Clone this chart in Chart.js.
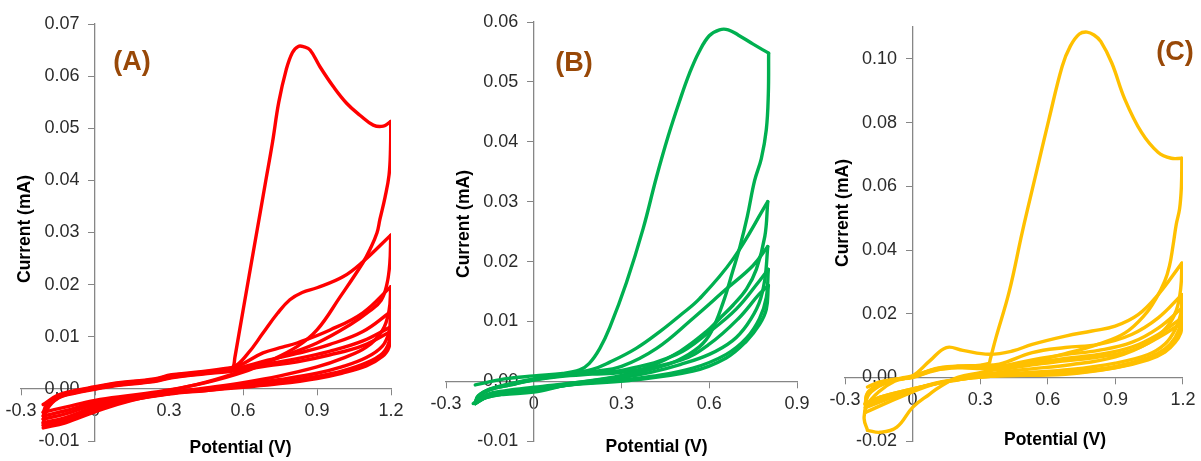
<!DOCTYPE html>
<html><head><meta charset="utf-8">
<script src="https://cdn.jsdelivr.net/npm/chart.js@4.4.1/dist/chart.umd.min.js"></script>
<style>
html,body{margin:0;padding:0;background:#fff;overflow:hidden}
#wrap{position:relative;width:1201px;height:461px;background:#fff}
canvas{position:absolute;left:0;top:0}
</style></head><body>
<div id="wrap">
<canvas id="cA" width="1201" height="461"></canvas>
<canvas id="cB" width="1201" height="461"></canvas>
<canvas id="cC" width="1201" height="461"></canvas>
</div>
<script>
// ---------- tick values and labels ----------
const xTicksAC = [-0.3, 0, 0.3, 0.6, 0.9, 1.2];
const xLabelsAC = ['-0.3', '0', '0.3', '0.6', '0.9', '1.2'];
const xTicksB = [-0.3, 0, 0.3, 0.6, 0.9];
const xLabelsB = ['-0.3', '0', '0.3', '0.6', '0.9'];
const yTicksA = [-0.01, 0, 0.01, 0.02, 0.03, 0.04, 0.05, 0.06, 0.07];
const yLabelsA = ['-0.01', '0.00', '0.01', '0.02', '0.03', '0.04', '0.05', '0.06', '0.07'];
const yTicksB = [-0.01, 0, 0.01, 0.02, 0.03, 0.04, 0.05, 0.06];
const yLabelsB = ['-0.01', '0.00', '0.01', '0.02', '0.03', '0.04', '0.05', '0.06'];
const yTicksC = [-0.02, 0, 0.02, 0.04, 0.06, 0.08, 0.10];
const yLabelsC = ['-0.02', '0.00', '0.02', '0.04', '0.06', '0.08', '0.10'];

// ---------- Panel A cycles: [potential V, current mA] ----------
const aCycle1 = [
[-0.21,-0.0030],[-0.15,-0.0012],[-0.08,-0.0003],[0,0.0004],[0.08,0.0011],[0.24,0.0019],[0.31,0.0027],[0.43,0.0033],[0.545,0.0040],[0.56,0.0042],[0.567,0.0060],
[0.60,0.0150],[0.65,0.0285],[0.69,0.0393],[0.72,0.0474],[0.745,0.0550],[0.775,0.0612],[0.80,0.0645],[0.824,0.0657],[0.848,0.0656],[0.872,0.0650],[0.912,0.0618],[0.966,0.0580],[1.020,0.0548],[1.074,0.0525],[1.128,0.0506],[1.169,0.0504],[1.199,0.0513],
[1.198,0.0460],[1.192,0.0410],[1.176,0.0368],[1.155,0.0325],[1.143,0.0299],[1.115,0.0268],[1.086,0.0242],[0.993,0.0176],[0.90,0.0113],[0.819,0.0081],[0.70,0.0052],[0.60,0.0032],[0.45,0.0012],[0.30,-0.0002],[0.15,-0.0012],[0,-0.0022],[-0.12,-0.0035],[-0.21,-0.0045]
];
const aCycle2 = [
[-0.21,-0.0045],[-0.195,-0.0030],[-0.15,-0.0014],[-0.08,-0.0004],[0,0.0003],[0.08,0.0010],[0.24,0.0018],[0.31,0.0026],[0.43,0.0032],[0.56,0.0042],
[0.62,0.0068],[0.681,0.0107],[0.74,0.0145],[0.79,0.0171],[0.84,0.0185],[0.90,0.0194],[1.005,0.0215],[1.086,0.0244],[1.199,0.0295],
[1.195,0.0240],[1.183,0.0200],[1.160,0.0170],[1.115,0.0150],[1.034,0.0123],[0.90,0.0088],[0.75,0.0061],[0.60,0.0035],[0.45,0.0013],[0.30,-0.0003],[0.15,-0.0015],[0,-0.0026],[-0.12,-0.0042],[-0.21,-0.0052]
];
const aCycle3 = [
[-0.21,-0.0052],[-0.195,-0.0032],[-0.15,-0.0015],[-0.08,-0.0005],[0,0.0002],[0.08,0.0009],[0.24,0.0017],[0.31,0.0025],[0.43,0.0031],[0.56,0.0040],
[0.681,0.0069],[0.76,0.0080],[0.819,0.0088],[0.953,0.0113],[1.086,0.0146],[1.199,0.0196],
[1.192,0.0150],[1.165,0.0112],[1.10,0.0080],[1.00,0.0058],[0.90,0.0042],[0.75,0.0025],[0.60,0.0012],[0.45,0.0002],[0.30,-0.0007],[0.15,-0.0018],[0,-0.0030],[-0.12,-0.0048],[-0.21,-0.0058]
];
const aCycle4 = [
[-0.21,-0.0058],[-0.195,-0.0035],[-0.15,-0.0016],[-0.08,-0.0006],[0,0.0001],[0.08,0.0008],[0.24,0.0016],[0.31,0.0024],[0.43,0.0030],[0.56,0.0038],
[0.70,0.0055],[0.82,0.0068],[0.95,0.0085],[1.086,0.0110],[1.199,0.0148],
[1.192,0.0110],[1.165,0.0082],[1.10,0.0060],[1.00,0.0042],[0.90,0.0030],[0.75,0.0018],[0.60,0.0008],[0.45,-0.0001],[0.30,-0.0009],[0.15,-0.0020],[0,-0.0035],[-0.12,-0.0055],[-0.21,-0.0065]
];
const aCycle5 = [
[-0.21,-0.0065],[-0.195,-0.0038],[-0.15,-0.0017],[-0.08,-0.0007],[0,0.0000],[0.08,0.0007],[0.24,0.0015],[0.31,0.0022],[0.43,0.0029],[0.56,0.0036],
[0.70,0.0048],[0.82,0.0058],[0.95,0.0072],[1.086,0.0092],[1.199,0.0119],
[1.192,0.0090],[1.165,0.0068],[1.10,0.0050],[1.00,0.0034],[0.90,0.0024],[0.75,0.0013],[0.60,0.0005],[0.45,-0.0003],[0.30,-0.0010],[0.15,-0.0021],[0,-0.0040],[-0.12,-0.0060],[-0.21,-0.0070]
];
const aCycle6 = [
[-0.21,-0.0070],[-0.195,-0.0040],[-0.15,-0.0018],[-0.08,-0.0008],[0,-0.0001],[0.08,0.0006],[0.24,0.0014],[0.31,0.0021],[0.43,0.0028],[0.56,0.0034],
[0.70,0.0044],[0.82,0.0052],[0.95,0.0065],[1.086,0.0083],[1.199,0.0110],
[1.192,0.0080],[1.165,0.0062],[1.10,0.0044],[1.00,0.0030],[0.90,0.0020],[0.75,0.0010],[0.60,0.0003],[0.45,-0.0003],[0.30,-0.0009],[0.15,-0.0022],[0,-0.0044],[-0.12,-0.0065],[-0.21,-0.0075]
];

// ---------- Panel B cycles ----------
const bCycle1 = [
[-0.20,-0.0006],[-0.10,0.0004],[0,0.0009],[0.10,0.0013],[0.157,0.0019],[0.19,0.0030],[0.226,0.0055],[0.26,0.0090],[0.317,0.0165],[0.374,0.0255],[0.419,0.0340],[0.46,0.0410],[0.50,0.0470],[0.533,0.0515],[0.565,0.0550],[0.60,0.0577],[0.635,0.0587],[0.665,0.0587],[0.70,0.0578],[0.75,0.0563],[0.803,0.0548],
[0.802,0.0480],[0.795,0.0420],[0.778,0.0372],[0.755,0.0335],[0.73,0.0275],[0.705,0.0225],[0.681,0.0185],[0.647,0.0131],[0.607,0.0083],[0.567,0.0058],[0.488,0.0034],[0.40,0.0020],[0.30,0.0008],[0.15,-0.0002],[0,-0.0010],[-0.10,-0.0016],[-0.16,-0.0022],[-0.20,-0.0035]
];
const bCycle2 = [
[-0.20,-0.0035],[-0.19,-0.0024],[-0.15,-0.0013],[-0.08,-0.0004],[0,0.0004],[0.089,0.0010],[0.20,0.0020],[0.26,0.0032],[0.35,0.0055],[0.431,0.0083],[0.50,0.0110],[0.567,0.0138],[0.681,0.0204],[0.80,0.0300],
[0.79,0.0242],[0.761,0.0187],[0.727,0.0154],[0.681,0.0127],[0.636,0.0105],[0.59,0.0083],[0.50,0.0050],[0.40,0.0025],[0.30,0.0010],[0.15,-0.0002],[0,-0.0012],[-0.10,-0.0018],[-0.16,-0.0025],[-0.20,-0.0037]
];
const bCycle3 = [
[-0.20,-0.0037],[-0.19,-0.0025],[-0.15,-0.0013],[-0.08,-0.0005],[0,0.0003],[0.089,0.0009],[0.20,0.0016],[0.30,0.0025],[0.42,0.0055],[0.544,0.0105],[0.658,0.0154],[0.749,0.0193],[0.80,0.0225],
[0.79,0.0170],[0.77,0.0130],[0.73,0.0095],[0.68,0.0068],[0.60,0.0045],[0.50,0.0028],[0.40,0.0015],[0.30,0.0006],[0.15,-0.0004],[0,-0.0014],[-0.10,-0.0020],[-0.16,-0.0026],[-0.20,-0.0037]
];
const bCycle4 = [
[-0.20,-0.0037],[-0.19,-0.0026],[-0.15,-0.0014],[-0.08,-0.0006],[0,0.0003],[0.089,0.0009],[0.20,0.0014],[0.317,0.0020],[0.488,0.0045],[0.601,0.0083],[0.693,0.0121],[0.772,0.0168],[0.802,0.0187],
[0.795,0.0140],[0.772,0.0105],[0.727,0.0072],[0.658,0.0045],[0.544,0.0022],[0.40,0.0008],[0.30,0.0002],[0.123,-0.0006],[0,-0.0016],[-0.10,-0.0021],[-0.16,-0.0027],[-0.20,-0.0037]
];
const bCycle5 = [
[-0.20,-0.0037],[-0.19,-0.0026],[-0.15,-0.0014],[-0.08,-0.0006],[0,0.0002],[0.089,0.0008],[0.20,0.0012],[0.30,0.0015],[0.50,0.0035],[0.60,0.0062],[0.70,0.0105],[0.77,0.0145],[0.802,0.0160],
[0.795,0.0120],[0.772,0.0095],[0.727,0.0067],[0.658,0.0039],[0.544,0.0017],[0.317,0.0001],[0.123,-0.0006],[0,-0.0018],[-0.105,-0.0022],[-0.162,-0.0027],[-0.207,-0.0037]
];

// ---------- Panel C cycles ----------
const cCycle1 = [
[-0.20,-0.0030],[-0.15,-0.0015],[-0.05,-0.0002],[0,0.0005],[0.10,0.0025],[0.20,0.0035],[0.30,0.0038],[0.33,0.0043],[0.34,0.0045],[0.345,0.0058],[0.37,0.0125],[0.429,0.0270],[0.487,0.0457],[0.546,0.0634],[0.605,0.0810],[0.664,0.0977],[0.70,0.1040],[0.74,0.1078],[0.774,0.1084],[0.805,0.1075],[0.835,0.1055],[0.884,0.0987],[0.942,0.0873],[1.016,0.0769],[1.089,0.0707],[1.148,0.0688],[1.195,0.0688],
[1.193,0.0600],[1.185,0.0530],[1.170,0.0480],[1.155,0.0410],[1.140,0.0350],[1.119,0.0302],[1.082,0.0250],[1.031,0.0197],[0.943,0.0140],[0.825,0.0105],[0.678,0.0075],[0.50,0.0045],[0.30,0.0015],[0.20,0.0000],[0.12,-0.0030],[0.076,-0.0052],[0,-0.0094],[-0.07,-0.0156],[-0.144,-0.0172],[-0.20,-0.0166]
];
const cCycle2 = [
[-0.20,-0.0166],[-0.215,-0.0130],[-0.205,-0.0090],[-0.15,-0.0045],[-0.08,-0.0012],[0,0.0005],[0.076,0.0052],[0.15,0.0094],[0.223,0.0085],[0.34,0.0073],[0.443,0.0083],[0.531,0.0104],[0.678,0.0130],[0.796,0.0146],[0.899,0.0161],[1.001,0.0197],[1.09,0.0260],[1.195,0.0359],
[1.19,0.0280],[1.17,0.0210],[1.13,0.0160],[1.05,0.0110],[0.90,0.0065],[0.70,0.0040],[0.50,0.0025],[0.30,0.0008],[0.20,-0.0005],[0.10,-0.0020],[0,-0.0045],[-0.10,-0.0075],[-0.21,-0.0110]
];
const cCycle3 = [
[-0.21,-0.0110],[-0.20,-0.0060],[-0.15,-0.0028],[-0.08,-0.0009],[0,0.0003],[0.10,0.0028],[0.20,0.0036],[0.30,0.0038],[0.385,0.0042],[0.531,0.0078],[0.678,0.0094],[0.825,0.0104],[0.972,0.0135],[1.09,0.0187],[1.195,0.0260],
[1.19,0.0200],[1.165,0.0150],[1.12,0.0105],[1.045,0.0072],[0.90,0.0045],[0.70,0.0025],[0.50,0.0015],[0.30,0.0005],[0.20,-0.0006],[0.10,-0.0018],[0,-0.0040],[-0.10,-0.0065],[-0.21,-0.0095]
];
const cCycle4 = [
[-0.21,-0.0095],[-0.20,-0.0055],[-0.15,-0.0026],[-0.08,-0.0008],[0,0.0002],[0.10,0.0026],[0.20,0.0034],[0.30,0.0034],[0.385,0.0035],[0.531,0.0055],[0.678,0.0072],[0.825,0.0085],[0.972,0.0110],[1.09,0.0155],[1.195,0.0218],
[1.19,0.0170],[1.165,0.0125],[1.12,0.0090],[1.045,0.0062],[0.90,0.0035],[0.70,0.0018],[0.50,0.0010],[0.30,0.0003],[0.20,-0.0008],[0.10,-0.0020],[0,-0.0037],[-0.10,-0.0060],[-0.21,-0.0085]
];
const cCycle5 = [
[-0.21,-0.0085],[-0.20,-0.0050],[-0.15,-0.0024],[-0.08,-0.0007],[0,0.0001],[0.10,0.0024],[0.20,0.0032],[0.30,0.0030],[0.385,0.0028],[0.531,0.0045],[0.678,0.0060],[0.825,0.0072],[0.972,0.0095],[1.09,0.0135],[1.195,0.0187],
[1.19,0.0150],[1.165,0.0114],[1.12,0.0082],[1.045,0.0058],[0.90,0.0031],[0.678,0.0012],[0.385,0.0005],[0.22,-0.0005],[0.12,-0.0016],[0,-0.0036],[-0.144,-0.0062],[-0.21,-0.0083]
];
const cCycle6 = [
[-0.21,-0.0083],[-0.20,-0.0048],[-0.15,-0.0022],[-0.08,-0.0006],[0,0.0000],[0.10,0.0022],[0.20,0.0030],[0.30,0.0028],[0.385,0.0025],[0.531,0.0040],[0.678,0.0052],[0.825,0.0064],[0.972,0.0085],[1.09,0.0125],[1.195,0.0171],
[1.19,0.0140],[1.165,0.0110],[1.12,0.0080],[1.045,0.0055],[0.90,0.0030],[0.678,0.0010],[0.385,0.0005],[0.22,-0.0005],[0.12,-0.0017],[0,-0.0036],[-0.144,-0.0062],[-0.21,-0.0083]
];

// ---------- rendering ----------
const FONT = "'Liberation Sans', Arial, Helvetica, sans-serif";
const AXIS_GRAY = '#868686';
const TICK_TEXT = '#2b2b2b';
const TAG_COLOR = '#984807';

const textPlugin = {
  id: 'panelText',
  afterDraw(chart, args, opts) {
    const ctx = chart.ctx;
    (opts.items || []).forEach(it => {
      ctx.save();
      ctx.font = it.font;
      ctx.fillStyle = it.color;
      ctx.textAlign = 'center';
      ctx.textBaseline = 'middle';
      ctx.translate(it.x, it.y);
      if (it.rotate) ctx.rotate(it.rotate);
      ctx.fillText(it.text, 0, 0);
      ctx.restore();
    });
  }
};

// value-positioned y axes put their labels flush against the axis line; move them left of the tick marks
const yLabelGapPlugin = {
  id: 'yLabelGap',
  beforeDraw(chart, args, opts) {
    const s = chart.scales.y;
    const items = s.getLabelItems(chart.chartArea);
    if (items.__shifted) return;
    items.forEach(it => { it.options.translation[0] -= opts.gap; });
    items.__shifted = true;
  }
};

function toXY(arr) { return arr.map(p => ({x: p[0], y: p[1]})); }

// split a cycle at its vertex potential into an anodic and a cathodic sweep (sharp turn, smooth sweeps)
function sweeps(cycle) {
  let k = 0;
  cycle.forEach((p, i) => { if (p[0] > cycle[k][0]) k = i; });
  return [cycle.slice(0, k + 1), cycle.slice(k)];
}

function makePanel(id, cfg) {
  const parts = [];
  cfg.cycles.forEach(c => sweeps(c).forEach(s => parts.push(s)));
  return new Chart(document.getElementById(id), {
    type: 'scatter',
    data: {
      datasets: parts.map(s => ({
        data: toXY(s), showLine: true, borderColor: cfg.color, backgroundColor: cfg.color,
        borderWidth: 3.4, pointRadius: 0, pointHoverRadius: 0, fill: false, tension: 0.4,
        borderCapStyle: 'round', borderJoinStyle: 'round'
      }))
    },
    options: {
      responsive: false, animation: false, events: [],
      layout: {padding: cfg.padding},
      plugins: {legend: {display: false}, tooltip: {enabled: false}, panelText: {items: cfg.texts}, yLabelGap: {gap: 15.5}},
      scales: {
        x: {
          type: 'linear', min: cfg.xMin, max: cfg.xMax, position: {y: 0},
          afterBuildTicks: s => { s.ticks = cfg.xTicks.map(v => ({value: v})); },
          ticks: {callback: (v, i) => cfg.xLabels[i], color: TICK_TEXT, font: {family: FONT, size: 18},
                  padding: 5.5, maxRotation: 0, minRotation: 0, autoSkip: false},
          grid: {drawOnChartArea: false, drawTicks: true, tickLength: 6, color: AXIS_GRAY, lineWidth: 1},
          border: {display: true, color: AXIS_GRAY, width: 1.3},
          title: {display: false}
        },
        y: {
          type: 'linear', min: cfg.yMin, max: cfg.yMax, position: {x: 0},
          afterBuildTicks: s => { s.ticks = cfg.yTicks.map(v => ({value: v})); },
          ticks: {callback: (v, i) => cfg.yLabels[i], color: TICK_TEXT, font: {family: FONT, size: 18},
                  padding: 9, autoSkip: false},
          grid: {drawOnChartArea: false, drawTicks: true, tickLength: 6, color: AXIS_GRAY, lineWidth: 1},
          border: {display: true, color: AXIS_GRAY, width: 1.3},
          title: {display: false}
        }
      }
    },
    plugins: [textPlugin, yLabelGapPlugin]
  });
}

const TITLE_FONT = "bold 17.5px " + FONT;
const TAG_FONT = "bold 27px " + FONT;

makePanel('cA', {
  cycles: [aCycle1, aCycle2, aCycle3, aCycle4, aCycle5, aCycle6], color: '#FF0000',
  xMin: -0.3, xMax: 1.2, yMin: -0.01, yMax: 0.07,
  xTicks: xTicksAC, xLabels: xLabelsAC, yTicks: yTicksA, yLabels: yLabelsA,
  padding: {left: 21, right: 810, top: 24, bottom: 20},
  texts: [
    {text: '(A)', x: 132, y: 63, font: TAG_FONT, color: TAG_COLOR},
    {text: 'Current (mA)', x: 25.5, y: 229, font: TITLE_FONT, color: '#000', rotate: -Math.PI / 2},
    {text: 'Potential (V)', x: 240.5, y: 448, font: TITLE_FONT, color: '#000'}
  ]
});
makePanel('cB', {
  cycles: [bCycle1, bCycle2, bCycle3, bCycle4, bCycle5], color: '#00B050',
  xMin: -0.3, xMax: 0.9, yMin: -0.01, yMax: 0.06,
  xTicks: xTicksB, xLabels: xLabelsB, yTicks: yTicksB, yLabels: yLabelsB,
  padding: {left: 446, right: 404, top: 22, bottom: 13},
  texts: [
    {text: '(B)', x: 574, y: 64, font: TAG_FONT, color: TAG_COLOR},
    {text: 'Current (mA)', x: 464, y: 224, font: TITLE_FONT, color: '#000', rotate: -Math.PI / 2},
    {text: 'Potential (V)', x: 656.5, y: 447, font: TITLE_FONT, color: '#000'}
  ]
});
makePanel('cC', {
  cycles: [cCycle1, cCycle2, cCycle3, cCycle4, cCycle5, cCycle6], color: '#FFC000',
  xMin: -0.3, xMax: 1.2, yMin: -0.02, yMax: 0.11,
  xTicks: xTicksAC, xLabels: xLabelsAC, yTicks: yTicksC, yLabels: yLabelsC,
  padding: {left: 845, right: 16, top: 27, bottom: 17},
  texts: [
    {text: '(C)', x: 1175, y: 53, font: TAG_FONT, color: TAG_COLOR},
    {text: 'Current (mA)', x: 843, y: 213, font: TITLE_FONT, color: '#000', rotate: -Math.PI / 2},
    {text: 'Potential (V)', x: 1055, y: 440, font: TITLE_FONT, color: '#000'}
  ]
});
</script>
</body></html>
